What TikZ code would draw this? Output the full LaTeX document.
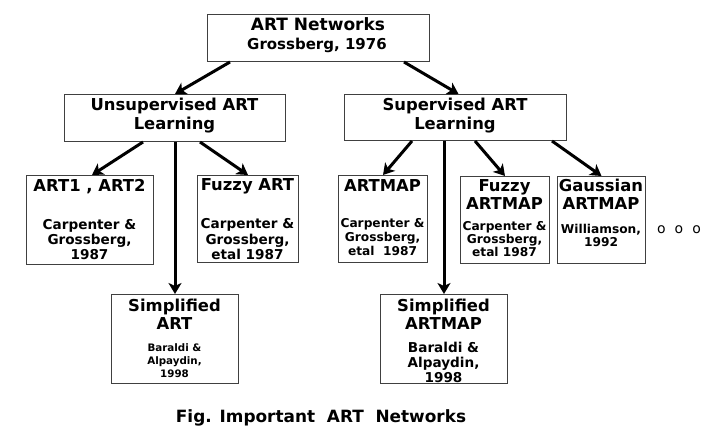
\documentclass[tikz,border=0pt]{standalone}
\usepackage{fontspec}
\setmainfont{DejaVu Sans}
\usetikzlibrary{arrows.meta}
\tikzset{
  box/.style={draw=black!75, line width=1pt, fill=white, inner sep=0pt, anchor=north west},
  ttl/.style={font=\fontsize{16.4}{19}\selectfont\bfseries, anchor=base, inner sep=0pt},
  big/.style={font=\fontsize{17}{20}\selectfont\bfseries, anchor=base, inner sep=0pt},
  sub/.style={font=\fontsize{15}{18}\selectfont\bfseries, anchor=base, inner sep=0pt},
  auA/.style={font=\fontsize{13.6}{15}\selectfont\bfseries, anchor=base, inner sep=0pt},
  auB/.style={font=\fontsize{12.2}{14}\selectfont\bfseries, anchor=base, inner sep=0pt},
  auC/.style={font=\fontsize{10.3}{12}\selectfont\bfseries, anchor=base, inner sep=0pt},
  arr/.style={line width=3pt, -{Stealth[length=11pt,width=13pt,inset=3pt]}},
}
\begin{document}
\begin{tikzpicture}[x=1pt,y=-1pt]
\useasboundingbox (0,0) rectangle (711,435);
\fill[white] (0,0) rectangle (711,435);
% boxes
\node[box, minimum width=222pt, minimum height=47pt] (top) at (207,14) {};
\node[box, minimum width=221pt, minimum height=47pt] (unsup) at (64,94) {};
\node[box, minimum width=222pt, minimum height=46pt] (sup) at (344,94) {};
\node[box, minimum width=127pt, minimum height=89pt] (art1) at (26,175) {};
\node[box, minimum width=101pt, minimum height=87pt] (fart) at (197,175) {};
\node[box, minimum width=89pt, minimum height=87pt] (artmap) at (338,175) {};
\node[box, minimum width=89pt, minimum height=87pt] (fartmap) at (460,176) {};
\node[box, minimum width=88pt, minimum height=87pt] (gauss) at (557,176) {};
\node[box, minimum width=127pt, minimum height=89pt] (simart) at (111,294) {};
\node[box, minimum width=127pt, minimum height=89pt] (simartmap) at (380,294) {};
% texts
\node[big] (topa) at (318,31) {ART Networks};
\node[sub] (topb) at (317,50) {Grossberg, 1976};
\node[ttl] (unsa) at (174.5,111) {Unsupervised ART};
\node[ttl] (unsb) at (174.5,130) {Learning};
\node[ttl] (supa) at (455,111) {Supervised ART};
\node[ttl] (supb) at (455,130) {Learning};
\node[ttl] (art1a) at (89.5,192) {ART1 , ART2};
\node[auA] (art1b) at (89.5,230) {Carpenter \&};
\node[auA] (art1c) at (89.5,245) {Grossberg,};
\node[auA] (art1d) at (89.5,260) {1987};
\node[ttl] (farta) at (247.5,191) {Fuzzy ART};
\node[auA] (fartb) at (247.5,229) {Carpenter \&};
\node[auA] (fartc) at (247.5,244.5) {Grossberg,};
\node[auA] (fartd) at (247.5,260) {etal 1987};
\node[ttl] (artmapa) at (382.5,192) {ARTMAP};
\node[auB] (artmapb) at (382.5,228) {Carpenter \&};
\node[auB] (artmapc) at (382.5,241.5) {Grossberg,};
\node[auB] (artmapd) at (382.5,255) {etal\ \ 1987};
\node[ttl] (fartmapa) at (504.5,192) {Fuzzy};
\node[ttl] (fartmapb) at (504.5,210) {ARTMAP};
\node[auB] (fartmapc) at (504.5,231) {Carpenter \&};
\node[auB] (fartmapd) at (504.5,244) {Grossberg,};
\node[auB] (fartmape) at (504.5,257) {etal 1987};
\node[ttl] (gaussa) at (601,192) {Gaussian};
\node[ttl] (gaussb) at (601,210) {ARTMAP};
\node[auB] (gaussc) at (601,234) {Williamson,};
\node[auB] (gaussd) at (601,247) {1992};
\node[ttl] (simarta) at (174.5,311) {Simplified};
\node[ttl] (simartb) at (174.5,329) {ART};
\node[auC] (simartc) at (174.5,351) {Baraldi \&};
\node[auC] (simartd) at (174.5,364) {Alpaydin,};
\node[auC] (simarte) at (174.5,377) {1998};
\node[ttl] (simartmapa) at (443.5,311) {Simplified};
\node[ttl] (simartmapb) at (443.5,329) {ARTMAP};
\node[auA] (simartmapc) at (443.5,352) {Baraldi \&};
\node[auA] (simartmapd) at (443.5,367) {Alpaydin,};
\node[auA] (simartmape) at (443.5,382) {1998};
\node[font=\fontsize{14}{16}\selectfont, anchor=base, inner sep=0pt] (dots) at (679,234) {o\hspace{9pt}o\hspace{9pt}o};
\node[font=\fontsize{16.9}{19}\selectfont\bfseries, anchor=base, inner sep=0pt] (caption) at (321,422) {Fig. Important\ \ ART\ \ Networks};
% connectors
\draw[arr] ([xshift=23pt]top.south west) -- (unsup.north);
\draw[arr] ([xshift=-26pt]top.south east) -- ([xshift=3pt]sup.north);
\draw[arr] ([xshift=79pt]unsup.south west) -- ([xshift=2pt]art1.north);
\draw[arr] (unsup.south) -- (simart.north);
\draw[arr] ([xshift=136pt]unsup.south west) -- (fart.north);
\draw[arr] ([xshift=68pt]sup.south west) -- (artmap.north);
\draw[arr] ([xshift=100pt]sup.south west) -- (simartmap.north);
\draw[arr] ([xshift=131pt]sup.south west) -- (fartmap.north);
\draw[arr] ([xshift=208pt]sup.south west) -- (gauss.north);
\end{tikzpicture}
\end{document}
